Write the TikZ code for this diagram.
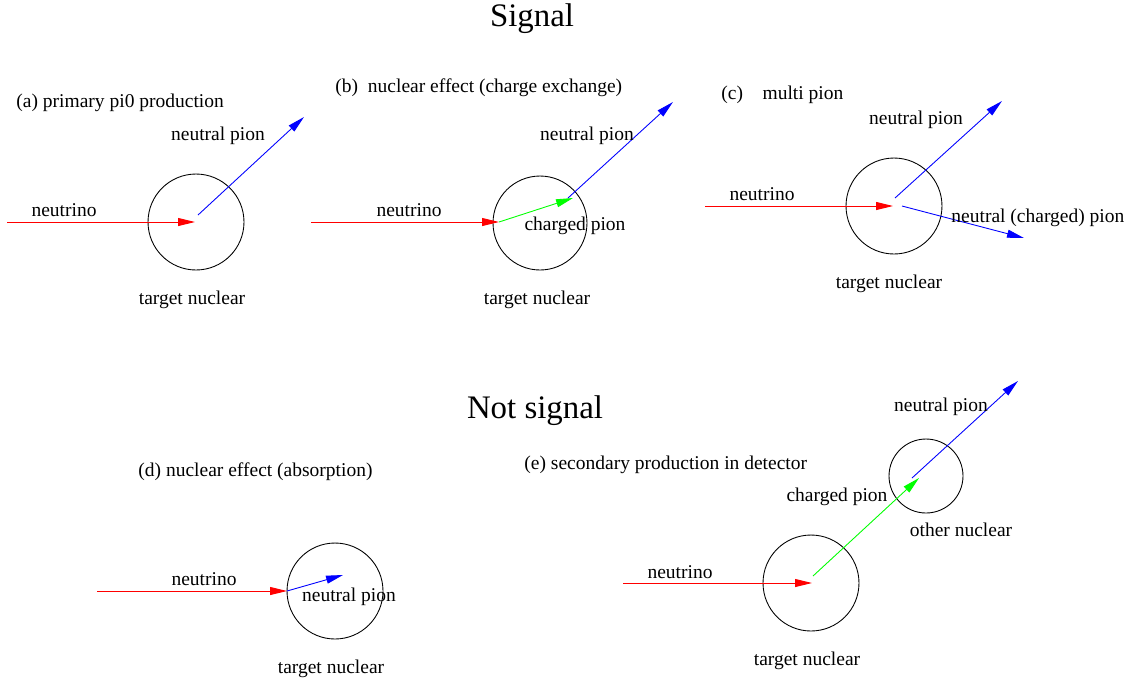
\documentclass[tikz,border=0pt]{standalone}
\usepackage{fontspec}
\setmainfont{Liberation Serif}
\usetikzlibrary{arrows.meta}
\tikzset{
  lbl/.style={font=\fontsize{11.1}{13}\selectfont, inner sep=0pt, yshift=-1.2pt},
  ttl/.style={font=\fontsize{18.7}{22}\selectfont, inner sep=0pt, yshift=-1.5pt},
  nucleus/.style={draw, circle, inner sep=0pt, minimum size=1.92cm},
  nu/.style={red, ->},
  pizero/.style={blue, ->},
  pich/.style={green, ->}
}
\begin{document}
\begin{tikzpicture}[x=0.02cm,y=-0.02cm,>={Triangle[length=3.4mm,width=1.6mm]},line width=0.5pt]
\useasboundingbox (0,0) rectangle (1136,681);
\node[ttl] (sig) at (532,16) {Signal};
\node[ttl] (nsig) at (535,408) {Not signal};

% (a)
\node[lbl,anchor=west] (tita) at (16,101) {(a) primary pi0 production};
\node[nucleus] (nuca) at (196,222) {};
\coordinate (nua) at (7,222);
\coordinate (vtxa) at (195,222);
\coordinate (pia0) at (198,215);
\coordinate (pia1) at (304,117);
\draw[nu] (nua) -- (vtxa);
\draw[pizero] (pia0) -- (pia1);
\node[lbl] (nulbla) at (64,208) {neutrino};
\node[lbl] (pilbla) at (218,134) {neutral pion};
\node[lbl] (tgta) at (192,298) {target nuclear};

% (b)
\node[lbl,anchor=west] (titb) at (335,86) {(b)\ \ nuclear effect (charge exchange)};
\node[nucleus,minimum size=1.88cm] (nucb) at (540,223) {};
\coordinate (nub) at (311,222);
\coordinate (vtxb) at (499,222);
\coordinate (chb) at (573,198);
\coordinate (pib0) at (568,198);
\coordinate (pib1) at (673,102);
\draw[nu] (nub) -- (vtxb);
\draw[pich] (vtxb) -- (chb);
\draw[pizero] (pib0) -- (pib1);
\node[lbl] (nulblb) at (409,208) {neutrino};
\node[lbl] (pilblb) at (587,134) {neutral pion};
\node[lbl] (chlblb) at (575,224) {charged pion};
\node[lbl] (tgtb) at (537,298) {target nuclear};

% (c)
\node[lbl,anchor=west] (titc) at (721,93) {(c)\ \ \ \ multi pion};
\node[nucleus] (nucc) at (894,206) {};
\coordinate (nuc) at (705,206);
\coordinate (vtxc) at (893,206);
\coordinate (pic0) at (895,198);
\coordinate (pic1) at (1002,101);
\coordinate (pid0) at (902,206);
\coordinate (pid1) at (1024,238);
\draw[nu] (nuc) -- (vtxc);
\draw[pizero] (pic0) -- (pic1);
\draw[pizero] (pid0) -- (pid1);
\node[lbl] (nulblc) at (762,192) {neutrino};
\node[lbl] (pilblc) at (916,118) {neutral pion};
\node[lbl,anchor=west] (mixlblc) at (951,216) {neutral (charged) pion};
\node[lbl] (tgtc) at (889,282) {target nuclear};

% (d)
\node[lbl,anchor=west] (titd) at (138,470) {(d) nuclear effect (absorption)};
\node[nucleus] (nucd) at (335,591) {};
\coordinate (nud) at (97,591);
\coordinate (vtxd) at (287,591);
\coordinate (pid) at (343,575);
\draw[nu] (nud) -- (vtxd);
\draw[pizero] (vtxd) -- (pid);
\node[lbl] (nulbld) at (204,577) {neutrino};
\node[lbl] (pilbld) at (349,595) {neutral pion};
\node[lbl] (tgtd) at (331,667) {target nuclear};

% (e)
\node[lbl,anchor=west] (tite) at (524,463) {(e) secondary production in detector};
\node[nucleus] (nuce) at (811,583) {};
\node[nucleus,minimum size=1.48cm] (othe) at (926,476) {};
\coordinate (nue) at (623,583);
\coordinate (vtxe) at (812,583);
\coordinate (che0) at (813,576);
\coordinate (che1) at (919,478);
\coordinate (pie0) at (912,478);
\coordinate (pie1) at (1018,381);
\draw[nu] (nue) -- (vtxe);
\draw[pich] (che0) -- (che1);
\draw[pizero] (pie0) -- (pie1);
\node[lbl] (nulble) at (680,570) {neutrino};
\node[lbl] (chlble) at (837,495) {charged pion};
\node[lbl] (pilble) at (941,405) {neutral pion};
\node[lbl] (othlble) at (961,528) {other nuclear};
\node[lbl] (tgte) at (807,659) {target nuclear};
\end{tikzpicture}
\end{document}
